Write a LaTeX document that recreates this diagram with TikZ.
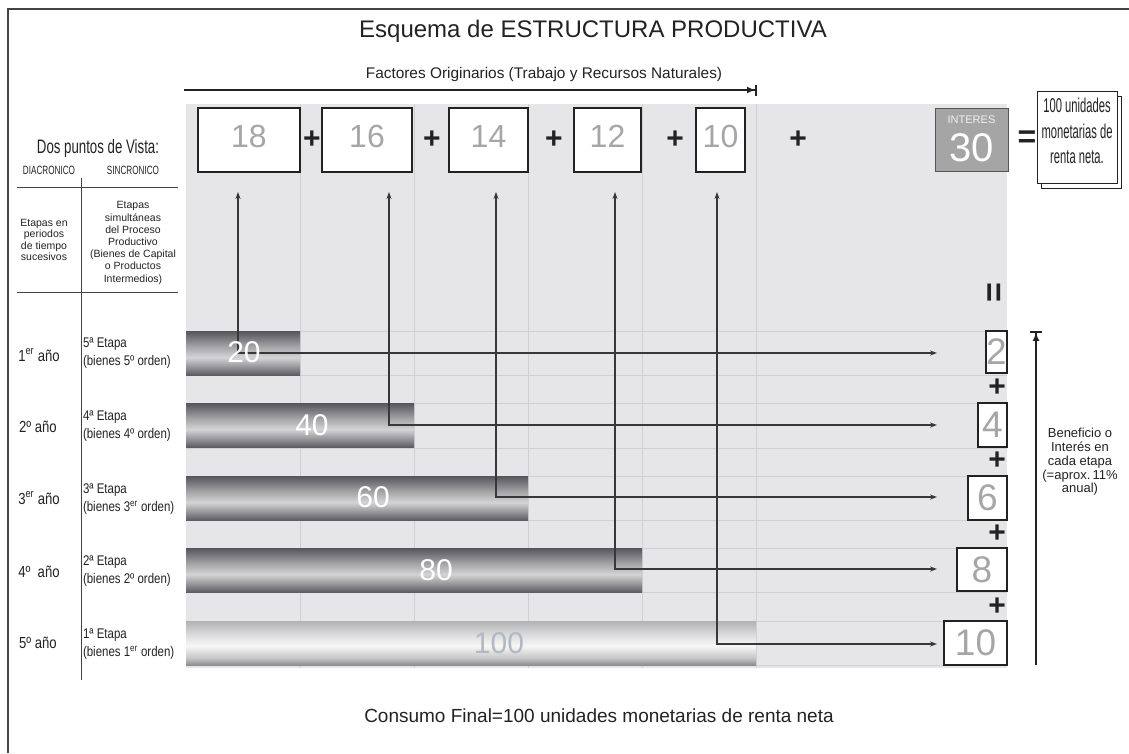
\documentclass[tikz,border=0pt]{standalone}
\usepackage{fontspec}
\setmainfont{Liberation Sans}
\newfontfamily\narrowfont[FakeStretch=0.82]{Liberation Sans}
\newfontfamily\condfont[FakeStretch=0.68]{Liberation Sans}
\newfontfamily\xcondfont[FakeStretch=0.56]{Liberation Sans}
\usetikzlibrary{arrows.meta}
\definecolor{panel}{HTML}{E6E6E8}
\definecolor{gridc}{HTML}{D0D0D3}
\definecolor{ink}{HTML}{222222}
\definecolor{numgray}{HTML}{A6A6A6}
\definecolor{intfill}{HTML}{A5A5A5}
\definecolor{intline}{HTML}{555555}
\definecolor{dmB}{HTML}{5E5E62}
\definecolor{dmL}{HTML}{8E8E92}
\definecolor{dmP}{HTML}{D4D4D6}
\definecolor{dmM}{HTML}{A6A6A9}
\definecolor{dmT}{HTML}{56565A}
\definecolor{lmB}{HTML}{8E8E92}
\definecolor{lmL}{HTML}{C6C6C8}
\definecolor{lmP}{HTML}{F7F7F7}
\definecolor{lmM}{HTML}{DADADC}
\definecolor{lmT}{HTML}{B2B2B4}
\definecolor{lightnum}{HTML}{B4B8C2}
\pgfdeclareverticalshading{darkmetal}{100bp}{color(0bp)=(dmB); color(25bp)=(dmB); color(33bp)=(dmL); color(45bp)=(dmP); color(57bp)=(dmM); color(75bp)=(dmT); color(100bp)=(dmT)}
\pgfdeclareverticalshading{lightmetal}{100bp}{color(0bp)=(lmB); color(25bp)=(lmB); color(33bp)=(lmL); color(47bp)=(lmP); color(60bp)=(lmM); color(75bp)=(lmT); color(100bp)=(lmT)}
\begin{document}
\begin{tikzpicture}[x=1pt,y=-1pt,
  every node/.style={inner sep=0pt,outer sep=0pt,text=ink},
  topbox/.style={draw=ink,line width=1.1pt,fill=white,minimum height=64pt,text=numgray,
    font=\fontsize{32}{32}\selectfont,text height=23pt,text depth=8pt},
  rbox/.style={draw=ink,line width=1.1pt,fill=white,text=numgray,font=\fontsize{37}{37}\selectfont},
  plus/.style={font=\fontsize{30}{30}\selectfont\bfseries},
  conn/.style={draw=ink!90,line width=1.2pt,{Stealth[length=7pt,width=5pt]}-{Stealth[length=7pt,width=5pt]}},
  barnum/.style={text=white,font=\fontsize{30}{30}\selectfont},
  gridline/.style={draw=gridc,line width=0.8pt},
  yearlbl/.style={font=\narrowfont\fontsize{16}{16}\selectfont},
  etapalbl/.style={anchor=west,align=left,font=\narrowfont\fontsize{14}{18}\selectfont},
  smalltxt/.style={align=center,font=\fontsize{10.5}{12.2}\selectfont},
  sepline/.style={draw=ink!85,line width=1pt},
  netbox/.style={draw=ink,line width=1pt,fill=white,minimum width=80pt,minimum height=92pt}
]
\useasboundingbox (0,0) rectangle (1129,753);
% frame
\draw[ink!85,line width=2pt] (8,753) -- (8,9) -- (1129,9);

% title and factores arrow
\node[font=\fontsize{24}{24}\selectfont] (title) at (593,31) {Esquema de ESTRUCTURA PRODUCTIVA};
\node[font=\fontsize{15.4}{16}\selectfont] (fact) at (544,75) {Factores Originarios (Trabajo y Recursos Naturales)};
\coordinate (fa) at (184,90);
\coordinate (fb) at (757,90);
\draw[ink,line width=2.2pt,-{Latex[length=8pt,width=7pt]Bar[width=11pt,line width=2pt]}] (fa) -- (fb);

% panel
\fill[panel] (186,104) rectangle (1007,668);
\foreach \x in {300,414,528,642,756} \draw[gridline] (\x,104) -- (\x,668);
\foreach \y in {331,375,403,448,476,520,548,592,621,665} \draw[gridline] (186,\y) -- (1007,\y);

% bars
\foreach \r/\t in {300/331,414/403,528/476,642/548}
  \shade[shading=darkmetal] (186,\t) rectangle (\r,\t+44);
\shade[shading=lightmetal] (186,621) rectangle (756,665);

% top boxes
\node[topbox,minimum width=102pt] (b18) at (249,140) {18};
\node[topbox,minimum width=90pt] (b16) at (367,140) {16};
\node[topbox,minimum width=79pt] (b14) at (488.5,140) {14};
\node[topbox,minimum width=67pt] (b12) at (607.5,140) {12};
\node[topbox,minimum width=49pt] (b10) at (720.5,140) {10};
\node[plus] (p1) at (312,140) {+};
\node[plus] (p2) at (432,140) {+};
\node[plus] (p3) at (554,140) {+};
\node[plus] (p4) at (675,140) {+};
\node[plus] (p5) at (798,140) {+};
\node[draw=intline,line width=1pt,fill=intfill,minimum width=73pt,minimum height=63pt] (int) at (971.5,139.5) {};
\node[font=\fontsize{11}{11}\selectfont,text=white!88!gray] (intlbl) at (971.5,120) {INTERES};
\node[font=\fontsize{40}{40}\selectfont,text=white] (int30) at (971.5,148) {30};
\node[font=\fontsize{32}{32}\selectfont\bfseries] (eq) at (1027,139) {=};
\node[netbox] (netb) at (1081,142) {};
\node[netbox] (net) at (1077,137) {};
\node[align=center,font=\xcondfont\fontsize{20}{25.5}\selectfont] (nettxt) at (1077,131) {100 unidades\\monetarias de\\renta neta.};

% left column
\node[font=\condfont\fontsize{19.5}{20}\selectfont] (dos) at (98,148) {Dos puntos de Vista:};
\node[font=\condfont\fontsize{12}{12}\selectfont] (dia) at (49,170) {DIACRONICO};
\node[font=\condfont\fontsize{12}{12}\selectfont] (sin) at (133,170) {SINCRONICO};
\coordinate (vtop) at (81,178);
\coordinate (vbot) at (81,680);
\draw[sepline] (vtop) -- (vbot);
\coordinate (h1a) at (17,187);
\coordinate (h1b) at (178,187);
\coordinate (h2a) at (17,292);
\coordinate (h2b) at (178,292);
\draw[sepline] (h1a) -- (h1b);
\draw[sepline] (h2a) -- (h2b);
\node[smalltxt,font=\fontsize{10.5}{11.3}\selectfont] (diatxt) at (44,240) {Etapas en\\periodos\\de tiempo\\sucesivos};
\node[smalltxt] (sintxt) at (133,243) {Etapas\\simultáneas\\del Proceso\\Productivo\\(Bienes de Capital\\o Productos\\Intermedios)};

\node[yearlbl] (y1) at (39,355) {1\textsuperscript{er} año};
\node[yearlbl] (y2) at (38,427) {2º año};
\node[yearlbl] (y3) at (39,498) {3\textsuperscript{er} año};
\node[yearlbl] (y4) at (39,572) {4º \ año};
\node[yearlbl] (y5) at (38,643) {5º año};
\node[etapalbl] (e1) at (83,353) {5ª Etapa\\(bienes 5º orden)};
\node[etapalbl] (e2) at (83,426) {4ª Etapa\\(bienes 4º orden)};
\node[etapalbl] (e3) at (83,499) {3ª Etapa\\(bienes 3\textsuperscript{er} orden)};
\node[etapalbl] (e4) at (83,571) {2ª Etapa\\(bienes 2º orden)};
\node[etapalbl] (e5) at (83,644) {1ª Etapa\\(bienes 1\textsuperscript{er} orden)};

% right boxes
\node[rbox,minimum width=21pt,minimum height=42pt] (r2) at (996.5,352) {2};
\node[rbox,minimum width=29pt,minimum height=44pt] (r4) at (992.5,425) {4};
\node[rbox,minimum width=39pt,minimum height=44pt] (r6) at (987.5,498) {6};
\node[rbox,minimum width=50pt,minimum height=43pt] (r8) at (982,569.5) {8};
\node[rbox,minimum width=63pt,minimum height=44pt] (r10) at (975.5,643) {10};
\node[plus] (q1) at (997,388) {+};
\node[plus] (q2) at (997,461) {+};
\node[plus] (q3) at (997,534) {+};
\node[plus] (q4) at (997,607) {+};
\node[font=\fontsize{34}{34}\selectfont\bfseries,rotate=90] (veq) at (997,293) {=};

% connectors
\coordinate (u1) at (238,192);
\coordinate (u2) at (389,192);
\coordinate (u3) at (496,192);
\coordinate (u4) at (615,192);
\coordinate (u5) at (717,192);
\coordinate (t1) at (937,353);
\coordinate (t2) at (937,425);
\coordinate (t3) at (937,497);
\coordinate (t4) at (937,569);
\coordinate (t5) at (937,644);
\draw[conn] (u1) |- (t1);
\draw[conn] (u2) |- (t2);
\draw[conn] (u3) |- (t3);
\draw[conn] (u4) |- (t4);
\draw[conn] (u5) |- (t5);

% bar numbers
\node[barnum] (n20) at (244,352) {20};
\node[barnum] (n40) at (312,425) {40};
\node[barnum] (n60) at (373,497) {60};
\node[barnum] (n80) at (436,570) {80};
\node[barnum,text=lightnum] (n100) at (499,643) {100};

% benefit arrow
\coordinate (ba) at (1036,665);
\coordinate (bb) at (1036,331);
\draw[ink,line width=1.6pt,-{Latex[length=8pt,width=7pt]Bar[width=12pt,line width=1.8pt]}] (ba) -- (bb);
\node[align=center,font=\fontsize{13}{13.8}\selectfont] (ben) at (1080,462) {Beneficio o\\Interés en\\cada etapa\\(=aprox.\,11\%\\anual)};

% bottom
\node[font=\fontsize{19}{19}\selectfont] (cons) at (599,716) {Consumo Final=100 unidades monetarias de renta neta};
\end{tikzpicture}
\end{document}
